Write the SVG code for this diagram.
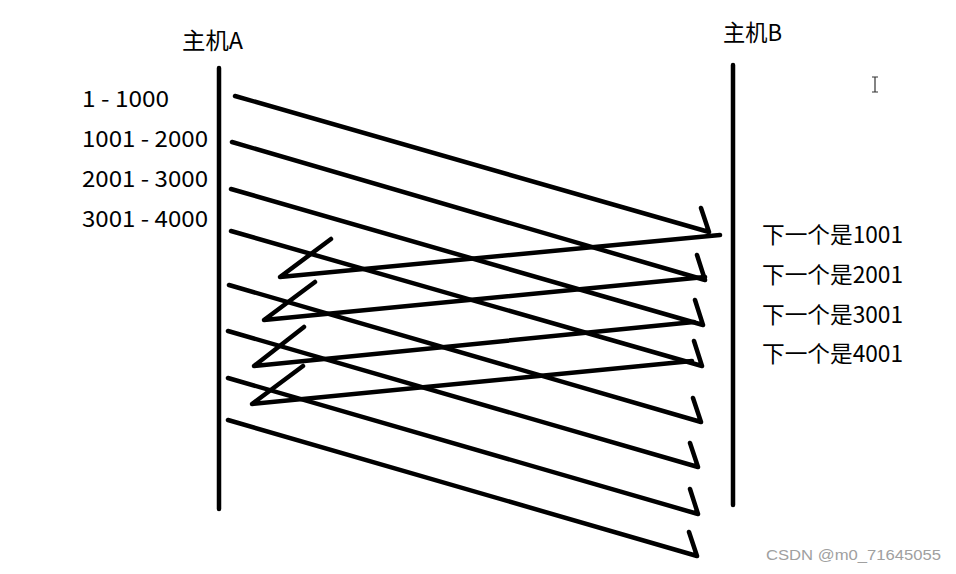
<svg xmlns="http://www.w3.org/2000/svg" width="956" height="574" viewBox="0 0 956 574">
<style>
.t{font-family:"Microsoft YaHei","Noto Sans CJK SC","Noto Sans",sans-serif;font-size:22.5px;fill:#000}
.ln{stroke:#000;stroke-width:4.5;stroke-linecap:round;stroke-linejoin:round;fill:none}
.wm{font-family:"Liberation Sans",Arial,sans-serif;font-size:14px;fill:#a0a0a0}
</style>
<rect width="956" height="574" fill="#fff"/>
<g id="hostA">
<text class="t" x="182" y="49" textLength="61" lengthAdjust="spacingAndGlyphs">主机A</text>
<line class="ln" x1="219" y1="68" x2="219" y2="509"/>
</g>
<g id="hostB">
<text class="t" x="723" y="41" textLength="59" lengthAdjust="spacingAndGlyphs">主机B</text>
<line class="ln" x1="733" y1="65" x2="733" y2="505"/>
</g>
<g id="segments">
<text class="t" x="82" y="107" textLength="87" lengthAdjust="spacingAndGlyphs">1 - 1000</text>
<text class="t" x="82" y="147" textLength="126" lengthAdjust="spacingAndGlyphs">1001 - 2000</text>
<text class="t" x="82" y="187" textLength="126" lengthAdjust="spacingAndGlyphs">2001 - 3000</text>
<text class="t" x="82" y="227" textLength="126" lengthAdjust="spacingAndGlyphs">3001 - 4000</text>
</g>
<g id="acks">
<text class="t" x="762" y="243" textLength="141" lengthAdjust="spacingAndGlyphs">下一个是1001</text>
<text class="t" x="762" y="283" textLength="141" lengthAdjust="spacingAndGlyphs">下一个是2001</text>
<text class="t" x="762" y="323" textLength="141" lengthAdjust="spacingAndGlyphs">下一个是3001</text>
<text class="t" x="762" y="362" textLength="141" lengthAdjust="spacingAndGlyphs">下一个是4001</text>
</g>
<g id="connectors">
<path class="ln" d="M235 96 L709 232 M701 208 L709 232"/>
<path class="ln" d="M232 142 L705 280 M697 255 L705 280"/>
<path class="ln" d="M231 189 L703 325 M695 300 L703 325"/>
<path class="ln" d="M231 231 L702 366 M694 341 L702 366"/>
<path class="ln" d="M229 285 L701 422 M693 398 L701 422"/>
<path class="ln" d="M228 331 L698 467 M690 443 L698 467"/>
<path class="ln" d="M228 378 L698 514 M690 489 L698 514"/>
<path class="ln" d="M228 420 L697 556 M689 532 L697 556"/>
<path class="ln" d="M720 235 L280 277 L331 239"/>
<path class="ln" d="M705 277 L264 320 L315 282"/>
<path class="ln" d="M694 322 L254 366 L304 327"/>
<path class="ln" d="M692 361 L252 404 L303 366"/>
</g>
<g id="cursor" stroke="#333" stroke-width="1.2" fill="none">
<path d="M875 77 V92 M872 77 H878 M872 92 H878"/>
</g>
<text class="wm" x="766" y="560" textLength="175" lengthAdjust="spacingAndGlyphs">CSDN @m0_71645055</text>
</svg>
